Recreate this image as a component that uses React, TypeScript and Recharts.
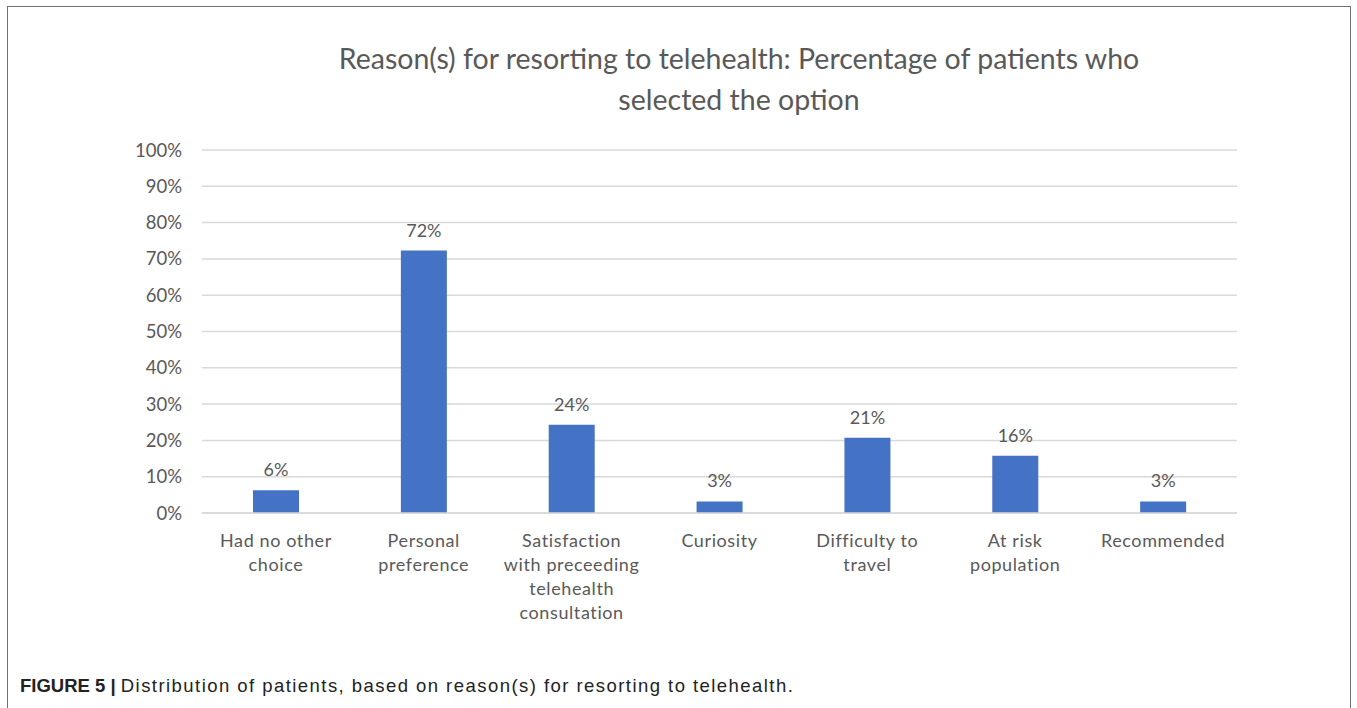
import React from "react";
import { BarChart, Bar, XAxis, YAxis, CartesianGrid, LabelList } from "recharts";

const categories = [
  "Had no other\nchoice",
  "Personal\npreference",
  "Satisfaction\nwith preceeding\ntelehealth\nconsultation",
  "Curiosity",
  "Difficulty to\ntravel",
  "At risk\npopulation",
  "Recommended",
];
const percentages = [6.3, 72.3, 24.3, 3.2, 20.7, 15.8, 3.2];
const yTicks = [0, 10, 20, 30, 40, 50, 60, 70, 80, 90, 100];

const data = categories.map((c, i) => ({ name: c, value: percentages[i] }));

const TEXT = "#595959";
const FONT = "Lato, 'Open Sans', sans-serif";

const XTick = (props: any) => {
  const { x, y, payload } = props;
  const lines = String(payload.value).split("\n");
  return (
    <text x={x} y={y} textAnchor="middle" fill={TEXT} fontSize={18} fontFamily={FONT} letterSpacing={0.6}>
      {lines.map((l, i) => (
        <tspan key={i} x={x} y={y + 28 + i * 24} dy="0.35em">
          {l}
        </tspan>
      ))}
    </text>
  );
};

export default function App() {
  return (
    <div
      style={{
        position: "absolute",
        left: 0,
        top: 0,
        width: 1357,
        height: 708,
        background: "#fff",
        overflow: "hidden",
      }}
    >
      <div
        style={{
          position: "absolute",
          left: 7,
          top: 6,
          width: 1344,
          height: 720,
          border: "1.5px solid #707070",
          boxSizing: "border-box",
        }}
      />
      <div
        style={{
          position: "absolute",
          left: 0,
          top: 38,
          width: 1478,
          textAlign: "center",
          fontFamily: FONT,
          fontSize: 28.5,
          lineHeight: "41px",
          color: TEXT,
        }}
      >
        Reason(s) for resorting to telehealth: Percentage of patients who
        <br />
        selected the option
      </div>
      <div style={{ position: "absolute", left: 0, top: 0 }}>
        <BarChart
          width={1357}
          height={708}
          data={data}
          margin={{ top: 150, right: 120, bottom: 75, left: 142 }}
        >
          <CartesianGrid vertical={false} stroke="#d9d9d9" strokeWidth={1.5} />
          <XAxis
            dataKey="name"
            interval={0}
            tickLine={false}
            axisLine={{ stroke: "#d9d9d9", strokeWidth: 1.5 }}
            tick={<XTick />}
            height={120}
            tickSize={0}
            tickMargin={0}
          />
          <YAxis
            type="number"
            domain={[0, 100]}
            ticks={yTicks}
            tickFormatter={(v: number) => `${v}%`}
            axisLine={false}
            tickLine={false}
            width={60}
            tickSize={0}
            tickMargin={20}
            tick={{ fill: TEXT, fontSize: 18.5, fontFamily: FONT }}
          />
          <Bar dataKey="value" fill="#4472C4" barSize={46} isAnimationActive={false}>
            <LabelList
              dataKey="value"
              position="top"
              offset={14}
              formatter={(v: any) => `${Math.round(Number(v))}%`}
              style={{ fill: TEXT, fontSize: 18, fontFamily: FONT }}
            />
          </Bar>
        </BarChart>
      </div>
      <div
        style={{
          position: "absolute",
          left: 20,
          top: 675,
          fontFamily: "'Liberation Sans', Arial, sans-serif",
          fontSize: 18.5,
          lineHeight: "21px",
          color: "#222",
          whiteSpace: "nowrap",
        }}
      >
        <b>FIGURE 5 |</b>{" "}
        <span style={{ letterSpacing: 1.45 }}>
          Distribution of patients, based on reason(s) for resorting to telehealth.
        </span>
      </div>
    </div>
  );
}
